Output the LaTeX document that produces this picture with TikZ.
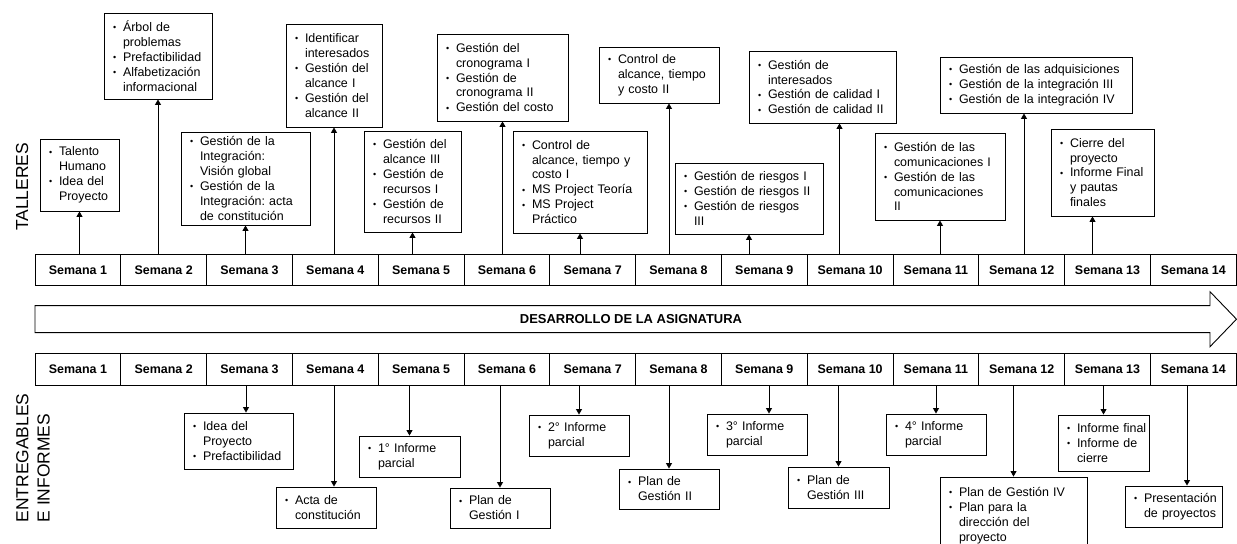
\documentclass[tikz,border=0pt]{standalone}
\usepackage{fontspec}
\setmainfont{Liberation Sans}
\usetikzlibrary{arrows.meta}
\frenchspacing

% bullet line and continued line inside a box
\newcommand{\bitem}[1]{\mbox{\makebox[10bp][l]{\raisebox{.8bp}{\fontsize{9}{9}\selectfont\textbullet}}#1}}
\newcommand{\bcont}[1]{\mbox{\hspace*{10bp}#1}}

\tikzset{
  week/.style={draw, line width=.9bp, minimum width=85.8bp, minimum height=31.4bp,
    inner sep=0pt, font=\bfseries\fontsize{12.5}{15}\selectfont},
  box/.style 2 args={draw, line width=.9bp, inner xsep=9bp, inner ysep=2bp, align=left,
    font=\fontsize{12.5}{15}\selectfont, minimum width=#1bp, minimum height=#2bp,
    text width=#1bp-18bp},
  arr/.style={line width=.9bp, -{Triangle[length=5.5bp,width=6bp]}},
  side/.style={rotate=90, align=left, inner sep=0pt, font=\fontsize{17.5}{21.5}\selectfont}
}

\begin{document}
\begin{tikzpicture}[x=1bp,y=-1bp]
  \useasboundingbox (0,0) rectangle (1237,544);

  % side titles
  \node [side] (tall) at (22,187) {TALLERES};
  \node [side] (entr) at (33,458) {ENTREGABLES\\E INFORMES};

  % weeks, both rows
  \foreach \i in {1,...,14} {
    \node [week] (tw\i) at ({35+85.8*(\i-0.5)},270) {Semana \i};
    \node [week] (ew\i) at ({35+85.8*(\i-0.5)},369.3) {Semana \i};
  }

  % development arrow
  \draw [line width=.9bp] (35,305.7) -- (1210,305.7) -- (1210,291.7) -- (1236.5,319.2)
    -- (1210,346.7) -- (1210,332.7) -- (35,332.7) -- cycle;
  \node [font=\bfseries\fontsize{13}{15}\selectfont] (dev) at (631,319.2)
    {DESARROLLO DE LA ASIGNATURA};

  % talleres
  \node [box={79}{72}] (t1) at (79.5,175)
    {\bitem{Talento}\\\bcont{Humano}\\\bitem{Idea del}\\\bcont{Proyecto}};
  \node [box={108}{86}] (t2) at (158,56)
    {\bitem{Árbol de}\\\bcont{problemas}\\\bitem{Prefactibilidad}\\\bitem{Alfabetización}\\\bcont{informacional}};
  \node [box={129}{93}] (t3) at (245.5,178.5)
    {\bitem{Gestión de la}\\\bcont{Integración:}\\\bcont{Visión global}\\\bitem{Gestión de la}\\\bcont{Integración: acta}\\\bcont{de constitución}};
  \node [box={96}{103}] (t4) at (334,75.5)
    {\bitem{Identificar}\\\bcont{interesados}\\\bitem{Gestión del}\\\bcont{alcance I}\\\bitem{Gestión del}\\\bcont{alcance II}};
  \node [box={97}{101}] (t5) at (412.5,181.5)
    {\bitem{Gestión del}\\\bcont{alcance III}\\\bitem{Gestión de}\\\bcont{recursos I}\\\bitem{Gestión de}\\\bcont{recursos II}};
  \node [box={131}{87}] (t6) at (502.5,77.5)
    {\bitem{Gestión del}\\\bcont{cronograma I}\\\bitem{Gestión de}\\\bcont{cronograma II}\\\bitem{Gestión del costo}};
  \node [box={134}{102}] (t7) at (580,182)
    {\bitem{Control de}\\\bcont{alcance, tiempo y}\\\bcont{costo I}\\\bitem{MS Project Teoría}\\\bitem{MS Project}\\\bcont{Práctico}};
  \node [box={120}{56}] (t8) at (659,75)
    {\bitem{Control de}\\\bcont{alcance, tiempo}\\\bcont{y costo II}};
  \node [box={148}{71}] (t9) at (749,198.5)
    {\bitem{Gestión de riesgos I}\\\bitem{Gestión de riesgos II}\\\bitem{Gestión de riesgos}\\\bcont{III}};
  \node [box={147}{72}] (t10) at (822.5,87)
    {\bitem{Gestión de}\\\bcont{interesados}\\\bitem{Gestión de calidad I}\\\bitem{Gestión de calidad II}};
  \node [box={130}{87}] (t11) at (940,176.5)
    {\bitem{Gestión de las}\\\bcont{comunicaciones I}\\\bitem{Gestión de las}\\\bcont{comunicaciones}\\\bcont{II}};
  \node [box={192}{56}] (t12) at (1036,85)
    {\bitem{Gestión de las adquisiciones}\\\bitem{Gestión de la integración III}\\\bitem{Gestión de la integración IV}};
  \node [box={103}{87}] (t13) at (1102.5,172.5)
    {\bitem{Cierre del}\\\bcont{proyecto}\\\bitem{Informe Final}\\\bcont{y pautas}\\\bcont{finales}};

  \foreach \i in {1,...,7,9,11} \draw [arr] (t\i.south |- tw\i.north) -- (t\i.south);
  \draw [arr] ([xshift=10bp]t8.south |- tw8.north) -- ([xshift=10bp]t8.south);
  \draw [arr] ([xshift=17bp]t10.south |- tw10.north) -- ([xshift=17bp]t10.south);
  \draw [arr] ([xshift=-12bp]t12.south |- tw12.north) -- ([xshift=-12bp]t12.south);
  \draw [arr] ([xshift=-10bp]t13.south |- tw13.north) -- ([xshift=-10bp]t13.south);

  % entregables e informes
  \node [box={109}{56}] (e3) at (238.5,441)
    {\bitem{Idea del}\\\bcont{Proyecto}\\\bitem{Prefactibilidad}};
  \node [box={100}{41}] (e4) at (326,507.5)
    {\bitem{Acta de}\\\bcont{constitución}};
  \node [box={101}{41}] (e5) at (409.5,456.5)
    {\bitem{1° Informe}\\\bcont{parcial}};
  \node [box={100}{40}] (e6) at (500,508)
    {\bitem{Plan de}\\\bcont{Gestión I}};
  \node [box={100}{41}] (e7) at (579,435.5)
    {\bitem{2° Informe}\\\bcont{parcial}};
  \node [box={100}{40}] (e8) at (669,489)
    {\bitem{Plan de}\\\bcont{Gestión II}};
  \node [box={100}{41}] (e9) at (757,434.5)
    {\bitem{3° Informe}\\\bcont{parcial}};
  \node [box={101}{41}] (e10) at (838.5,487.5)
    {\bitem{Plan de}\\\bcont{Gestión III}};
  \node [box={100}{41}] (e11) at (936,434.5)
    {\bitem{4° Informe}\\\bcont{parcial}};
  \node [box={147}{77}] (e12) at (1013.5,515.5)
    {\bitem{Plan de Gestión IV}\\\bitem{Plan para la}\\\bcont{dirección del}\\\bcont{proyecto}};
  \node [box={91}{56}] (e13) at (1103.5,443)
    {\bitem{Informe final}\\\bitem{Informe de}\\\bcont{cierre}};
  \node [box={97}{41}] (e14) at (1173.5,506.5)
    {\bitem{Presentación}\\\bcont{de proyectos}};

  \foreach \i in {5,6,7,8,10,11,12,13} \draw [arr] (e\i.north |- ew\i.south) -- (e\i.north);
  \draw [arr] ([xshift=7.5bp]e3.north |- ew3.south) -- ([xshift=7.5bp]e3.north);
  \draw [arr] ([xshift=8bp]e4.north |- ew4.south) -- ([xshift=8bp]e4.north);
  \draw [arr] ([xshift=12bp]e9.north |- ew9.south) -- ([xshift=12bp]e9.north);
  \draw [arr] ([xshift=13.5bp]e14.north |- ew14.south) -- ([xshift=13.5bp]e14.north);
\end{tikzpicture}
\end{document}
